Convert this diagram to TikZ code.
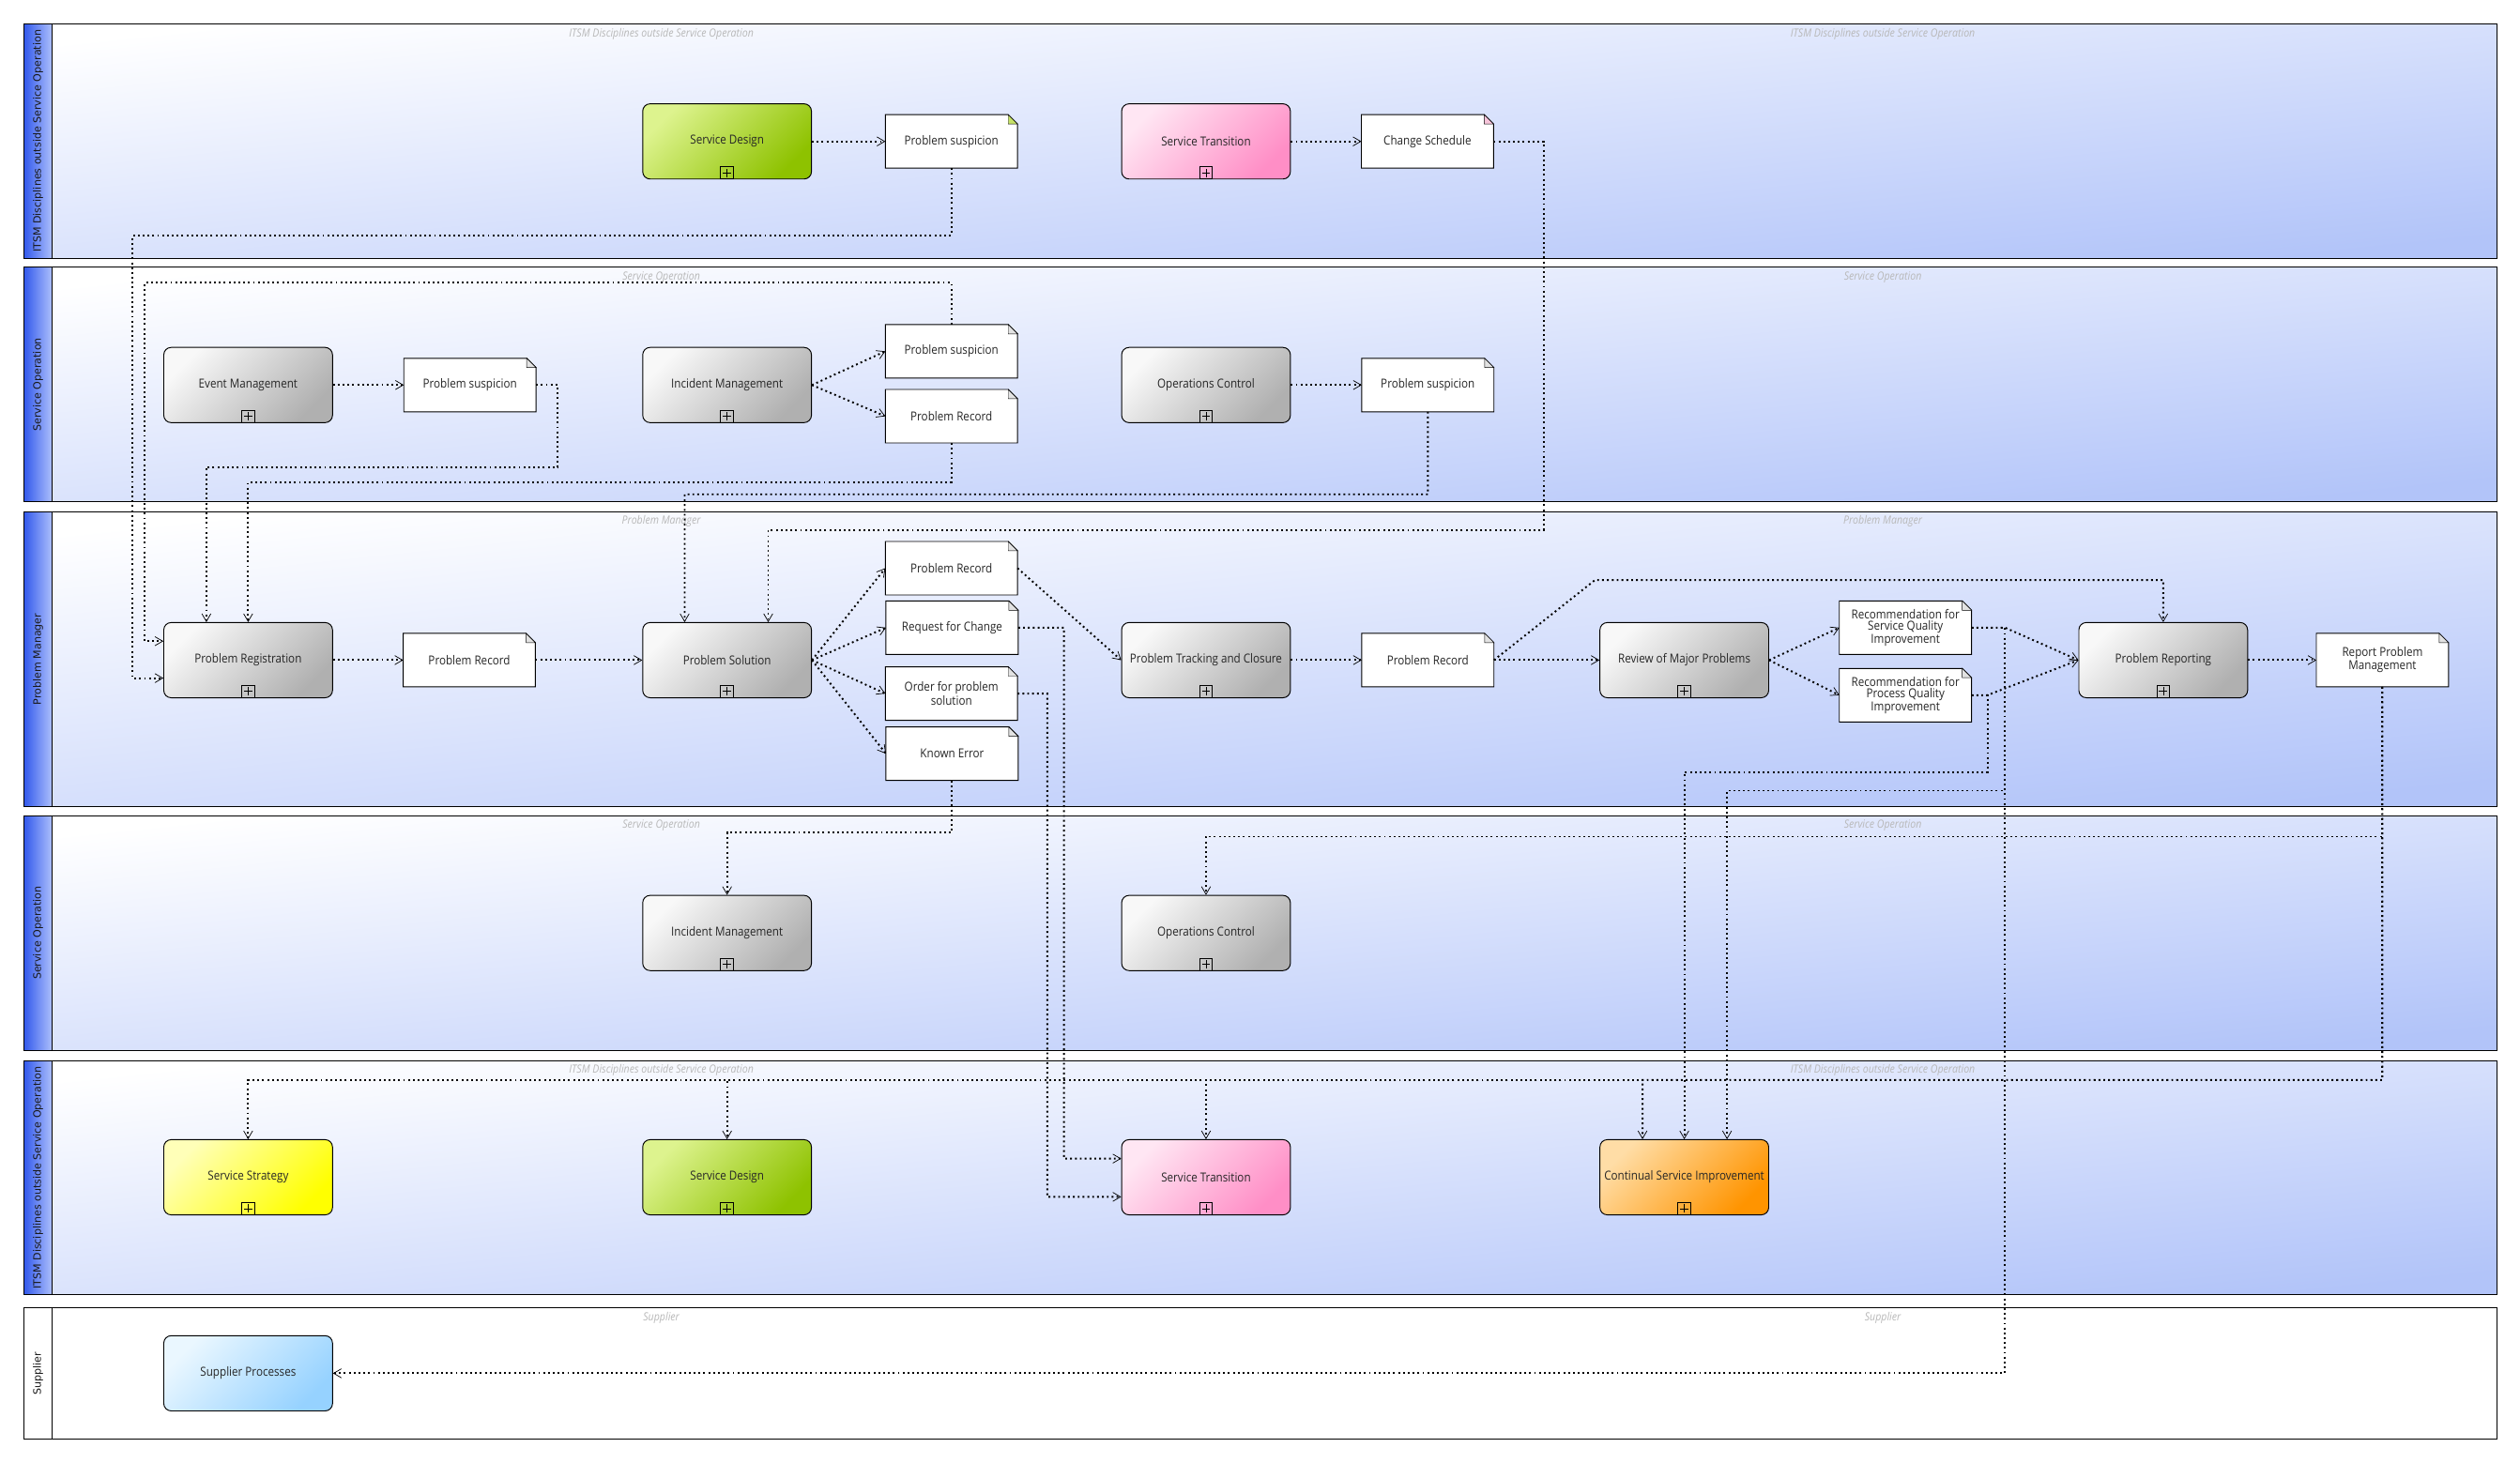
\documentclass[tikz,border=0pt]{standalone}
\usepackage{fontspec}
\setmainfont{Open Sans}[FakeStretch=0.88]
\newfontfamily\lanefont{DejaVu Sans}
\usetikzlibrary{arrows.meta}
\pgfdeclarelayer{lanes}
\pgfdeclarelayer{paper}
\pgfsetlayers{lanes,paper,main}
\definecolor{lanelight}{HTML}{FFFFFF}
\definecolor{lanedark}{HTML}{B2C4F9}
\definecolor{headdark}{HTML}{3259EC}
\definecolor{headlight}{HTML}{AEC0FC}
\definecolor{greylight}{HTML}{F8F8F8}
\definecolor{greydark}{HTML}{B0B0B0}
\definecolor{greenlight}{HTML}{DDF38E}
\definecolor{greendark}{HTML}{8EC200}
\definecolor{pinklight}{HTML}{FFE6F3}
\definecolor{pinkdark}{HTML}{FF8EC6}
\definecolor{yellowlight}{HTML}{FFFFB8}
\definecolor{yellowdark}{HTML}{FFFF00}
\definecolor{orangelight}{HTML}{FFDDA6}
\definecolor{orangedark}{HTML}{FF9400}
\definecolor{bluelight}{HTML}{EAF7FF}
\definecolor{bluedark}{HTML}{96D2FF}
\definecolor{foldgreen}{HTML}{C6E266}
\definecolor{foldpink}{HTML}{F7C4DA}
\definecolor{foldgrey}{HTML}{E2E2E2}

\begin{document}
\begin{tikzpicture}[x=1cm,y=1cm]
\tikzset{
  lane/.style={draw,line width=0.8pt,top color=lanelight,bottom color=lanedark,shading angle=6},
  lanehead/.style={draw,line width=0.8pt,left color=headdark,right color=headlight},
  plainlane/.style={draw,line width=0.8pt,fill=white},
  lanename/.style={rotate=90,font=\lanefont\fontsize{9.2}{10}\selectfont,text=black!90},
  lanetitle/.style={font=\itshape\fontsize{10}{11}\selectfont,text=black!28},
  tint/.style 2 args={top color=#1,bottom color=#2,shading angle=45},
  task/.style={draw,line width=0.8pt,rounded corners=2.3mm,minimum width=5.25cm,minimum height=2.34cm,
    inner sep=1pt,align=center,font=\fontsize{11}{12}\selectfont,text=black!85},
  subproc/.style={task,path picture={
    \draw[sharp corners,line width=0.6pt] ([xshift=-2mm]path picture bounding box.south) rectangle ([xshift=2mm,yshift=3.9mm]path picture bounding box.south);
    \draw[sharp corners,line width=0.6pt] ([xshift=-1.3mm,yshift=1.95mm]path picture bounding box.south) -- ([xshift=1.3mm,yshift=1.95mm]path picture bounding box.south);
    \draw[sharp corners,line width=0.6pt] ([yshift=0.65mm]path picture bounding box.south) -- ([yshift=3.25mm]path picture bounding box.south);}},
  greytask/.style={subproc,tint={greylight}{greydark}},
  greentask/.style={subproc,tint={greenlight}{greendark}},
  pinktask/.style={subproc,tint={pinklight}{pinkdark}},
  yellowtask/.style={subproc,tint={yellowlight}{yellowdark}},
  orangetask/.style={subproc,tint={orangelight}{orangedark}},
  bluetask/.style={task,tint={bluelight}{bluedark}},
  docnode/.style={minimum width=4.1cm,minimum height=1.65cm,inner sep=1pt,align=center,
    font=\fontsize{11}{10}\selectfont,text=black!85},
  flow/.style={line width=1.6pt,dash pattern=on 1.6pt off 2.7pt,
    -{Straight Barb[length=2.4mm,width=2.8mm,line width=0.6pt]}}
}
\useasboundingbox (0,0) rectangle (78.40,-45.52);

% swimlanes
\begin{pgfonlayer}{lanes}
\draw[lane] (0.74,-0.735) rectangle (77.67,-8.045);
\draw[lanehead] (0.74,-0.735) rectangle (1.63,-8.045);
\node[lanename] (lane_1) at (1.185,-4.39) {ITSM Disciplines outside Service Operation};
\node[lanetitle] (title_1a) at (20.575,-1.05) {ITSM Disciplines outside Service Operation};
\node[lanetitle] (title_1b) at (58.575,-1.05) {ITSM Disciplines outside Service Operation};

\draw[lane] (0.74,-8.32) rectangle (77.67,-15.62);
\draw[lanehead] (0.74,-8.32) rectangle (1.63,-15.62);
\node[lanename] (lane_2) at (1.185,-11.97) {Service Operation};
\node[lanetitle] (title_2a) at (20.575,-8.62) {Service Operation};
\node[lanetitle] (title_2b) at (58.575,-8.62) {Service Operation};

\draw[lane] (0.74,-15.915) rectangle (77.67,-25.10);
\draw[lanehead] (0.74,-15.915) rectangle (1.63,-25.10);
\node[lanename] (lane_3) at (1.185,-20.51) {Problem Manager};
\node[lanetitle] (title_3a) at (20.575,-16.22) {Problem Manager};
\node[lanetitle] (title_3b) at (58.575,-16.22) {Problem Manager};

\draw[lane] (0.74,-25.375) rectangle (77.67,-32.675);
\draw[lanehead] (0.74,-25.375) rectangle (1.63,-32.675);
\node[lanename] (lane_4) at (1.185,-29.03) {Service Operation};
\node[lanetitle] (title_4a) at (20.575,-25.68) {Service Operation};
\node[lanetitle] (title_4b) at (58.575,-25.68) {Service Operation};

\draw[lane] (0.74,-33.00) rectangle (77.67,-40.29);
\draw[lanehead] (0.74,-33.00) rectangle (1.63,-40.29);
\node[lanename] (lane_5) at (1.185,-36.65) {ITSM Disciplines outside Service Operation};
\node[lanetitle] (title_5a) at (20.575,-33.30) {ITSM Disciplines outside Service Operation};
\node[lanetitle] (title_5b) at (58.575,-33.30) {ITSM Disciplines outside Service Operation};

\draw[plainlane] (0.74,-40.70) rectangle (77.67,-44.79);
\draw[plainlane] (0.74,-40.70) rectangle (1.63,-44.79);
\node[lanename] (lane_6) at (1.185,-42.75) {Supplier};
\node[lanetitle] (title_6a) at (20.575,-41.00) {Supplier};
\node[lanetitle] (title_6b) at (58.575,-41.00) {Supplier};
\end{pgfonlayer}

% ITSM disciplines (top)
\node[greentask] (sd1) at (22.62,-4.40) {Service Design};
\node[docnode] (ps1) at (29.60,-4.40) {Problem suspicion};
\node[pinktask] (st1) at (37.52,-4.40) {Service Transition};
\node[docnode] (cs1) at (44.41,-4.40) {Change Schedule};

% service operation (top)
\node[greytask] (em2) at (7.72,-11.98) {Event Management};
\node[docnode] (ps2b) at (14.62,-11.98) {Problem suspicion};
\node[greytask] (im2) at (22.62,-11.98) {Incident Management};
\node[docnode] (ps2a) at (29.60,-10.93) {Problem suspicion};
\node[docnode] (pr2) at (29.60,-12.95) {Problem Record};
\node[greytask] (oc2) at (37.52,-11.98) {Operations Control};
\node[docnode] (ps2c) at (44.42,-11.98) {Problem suspicion};

% problem manager
\node[greytask] (preg) at (7.72,-20.54) {Problem Registration};
\node[docnode] (pr3a) at (14.60,-20.54) {Problem Record};
\node[greytask] (psol) at (22.62,-20.54) {Problem Solution};
\node[docnode] (pr3b) at (29.60,-17.68) {Problem Record};
\node[docnode] (rfc) at (29.62,-19.53) {Request for Change};
\node[docnode] (ord) at (29.60,-21.58) {Order for problem\\solution};
\node[docnode] (ke) at (29.62,-23.45) {Known Error};
\node[greytask] (ptc) at (37.52,-20.54) {Problem Tracking and Closure};
\node[docnode] (pr3c) at (44.42,-20.54) {Problem Record};
\node[greytask] (rmp) at (52.40,-20.54) {Review of Major Problems};
\node[docnode] (sqi) at (59.28,-19.53) {Recommendation for\\Service Quality\\Improvement};
\node[docnode] (pqi) at (59.28,-21.63) {Recommendation for\\Process Quality\\Improvement};
\node[greytask] (prep) at (67.30,-20.54) {Problem Reporting};
\node[docnode] (rpm) at (74.12,-20.54) {Report Problem\\Management};

% service operation (bottom)
\node[greytask] (im4) at (22.62,-29.03) {Incident Management};
\node[greytask] (oc4) at (37.52,-29.03) {Operations Control};

% ITSM disciplines (bottom)
\node[yellowtask] (ss5) at (7.72,-36.63) {Service Strategy};
\node[greentask] (sd5) at (22.62,-36.63) {Service Design};
\node[pinktask] (st5) at (37.52,-36.63) {Service Transition};
\node[orangetask] (csi) at (52.40,-36.63) {Continual Service Improvement};

% supplier
\node[bluetask] (sp) at (7.72,-42.73) {Supplier Processes};

% data objects
\begin{pgfonlayer}{paper}
\foreach \d/\f in {ps1/foldgreen,cs1/foldpink,ps2b/foldgrey,ps2a/foldgrey,pr2/foldgrey,ps2c/foldgrey,
  pr3a/foldgrey,pr3b/foldgrey,rfc/foldgrey,ord/foldgrey,ke/foldgrey,pr3c/foldgrey,sqi/foldgrey,pqi/foldgrey,rpm/foldgrey}{
  \filldraw[fill=white,line width=0.8pt] (\d.north west) -- ([xshift=-2.9mm]\d.north east) -- ([yshift=-2.9mm]\d.north east)
    -- (\d.south east) -- (\d.south west) -- cycle;
  \filldraw[fill=\f,line width=0.4pt] ([xshift=-2.9mm]\d.north east) -- ([xshift=-2.9mm,yshift=-2.9mm]\d.north east)
    -- ([yshift=-2.9mm]\d.north east) -- cycle;
}
\end{pgfonlayer}

% flows
\draw[flow] (sd1.east) -- (ps1.west);
\draw[flow] (st1.east) -- (cs1.west);
\draw[flow] (ps1.south) |- (4.12,-7.33) |- ([yshift=-5.6mm]preg.west);
\draw[flow] (cs1.east) -| (48.02,-16.50) -| ([xshift=12.8mm]psol.north);
\draw[flow] (em2.east) -- (ps2b.west);
\draw[flow] (im2.east) -- (ps2a.west);
\draw[flow] (im2.east) -- (pr2.west);
\draw[flow] (oc2.east) -- (ps2c.west);
\draw[flow] (ps2a.north) |- (4.50,-8.80) |- ([yshift=5.9mm]preg.west);
\draw[flow] (ps2b.east) -| (17.35,-14.53) -| ([xshift=-13mm]preg.north);
\draw[flow] (pr2.south) |- (7.72,-15.00) -- (preg.north);
\draw[flow] (ps2c.south) |- (21.30,-15.38) -- ([xshift=-13.2mm]psol.north);
\draw[flow] (preg.east) -- (pr3a.west);
\draw[flow] (pr3a.east) -- (psol.west);
\draw[flow] (psol.east) -- (pr3b.west);
\draw[flow] (psol.east) -- (rfc.west);
\draw[flow] (psol.east) -- (ord.west);
\draw[flow] (psol.east) -- (ke.west);
\draw[flow] (pr3b.east) -- (ptc.west);
\draw[flow] (ptc.east) -- (pr3c.west);
\draw[flow] (pr3c.east) -- (rmp.west);
\draw[flow] (pr3c.east) -- (49.62,-18.05) -| (prep.north);
\draw[flow] (rmp.east) -- (sqi.west);
\draw[flow] (rmp.east) -- (pqi.west);
\draw[flow] (sqi.east) -- (62.38,-19.53) -- (prep.west);
\draw[flow] (pqi.east) -- (61.83,-21.63) -- (prep.west);
\draw[flow] (prep.east) -- (rpm.west);
\draw[flow] (rfc.east) -| (33.10,-36.05) -- ([yshift=5.8mm]st5.west);
\draw[flow] (ord.east) -| (32.58,-37.24) -- ([yshift=-6.1mm]st5.west);
\draw[flow] (ke.south) |- (22.62,-25.90) -- (im4.north);
\draw[flow] (sqi.east) -| (62.38,-42.73) -- (sp.east);
\draw[flow] (sqi.east) -| (62.38,-24.60) -| ([xshift=13.3mm]csi.north);
\draw[flow] (pqi.east) -| (61.83,-24.03) -| (csi.north);
\draw[flow] (rpm.south) |- (37.52,-26.03) -- (oc4.north);
\draw[flow] (rpm.south) |- (7.72,-33.60) -- (ss5.north);
\draw[flow] (rpm.south) |- (22.62,-33.60) -- (sd5.north);
\draw[flow] (rpm.south) |- (37.52,-33.60) -- (st5.north);
\draw[flow] (rpm.south) |- (51.10,-33.60) -- ([xshift=-13mm]csi.north);
\end{tikzpicture}
\end{document}
